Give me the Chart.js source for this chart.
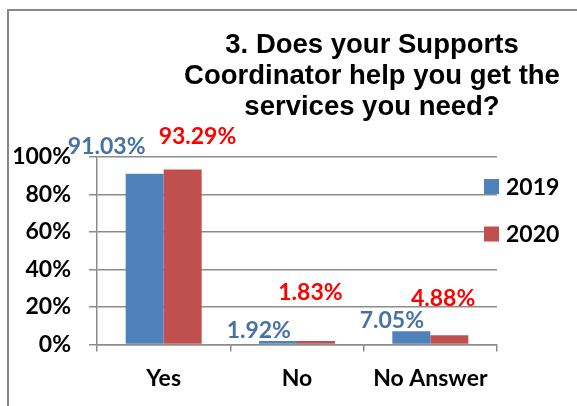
<!DOCTYPE html>
<html>
<head>
<meta charset="utf-8">
<script src="https://cdn.jsdelivr.net/npm/chart.js@4"></script>
<style>
  html, body { margin: 0; padding: 0; background: #ffffff; }
  #wrap { position: relative; width: 577px; height: 406px; }
  canvas { display: block; }
</style>
</head>
<body>
<div id="wrap"><canvas id="chart" width="577" height="406"></canvas></div>
<script>
// Survey answers, share of respondents (%)
const categories = ['Yes', 'No', 'No Answer'];
const seriesNames = ['2019', '2020'];
const values2019 = [91.03, 1.92, 7.05];
const values2020 = [93.29, 1.83, 4.88];
const yTickValues = [0, 20, 40, 60, 80, 100];
const titleLines = ['3. Does your Supports', 'Coordinator help you get the', 'services you need?'];

const barColors = ['#4F81BD', '#C0504D'];
const valueLabelColors = ['#4572A7', '#FF0000'];
const gridColor = '#8C8C8C';
const labelFont = 'bold 23px Lato';

// Frame, title, legend and value labels
const decorations = {
  id: 'decorations',
  beforeDraw(chart) {
    const ctx = chart.ctx;
    ctx.save();
    ctx.strokeStyle = '#888888';
    ctx.lineWidth = 2;
    ctx.beginPath();
    ctx.moveTo(8, 406);
    ctx.lineTo(8, 10);
    ctx.lineTo(577, 10);
    ctx.stroke();
    ctx.restore();
  },
  afterDatasetsDraw(chart, args, opts) {
    const ctx = chart.ctx;
    const area = chart.chartArea;
    ctx.save();

    // title
    ctx.fillStyle = '#000000';
    ctx.font = 'bold 27.5px "Liberation Sans", Arial, sans-serif';
    ctx.textAlign = 'center';
    ctx.textBaseline = 'alphabetic';
    titleLines.forEach((line, i) => {
      ctx.fillText(line, opts.titleX, opts.titleBaseline + i * opts.titleLineGap);
    });

    // legend
    ctx.font = labelFont;
    ctx.textAlign = 'left';
    chart.data.datasets.forEach((ds, i) => {
      const cy = opts.legendY[i];
      ctx.fillStyle = ds.backgroundColor;
      ctx.fillRect(area.right - 13, cy - 7.5, 15, 15);
      ctx.fillStyle = '#000000';
      ctx.fillText(ds.label, area.right + 9, cy + 8.2);
    });

    // value labels
    ctx.textAlign = 'center';
    chart.data.datasets.forEach((ds, i) => {
      const meta = chart.getDatasetMeta(i);
      ctx.fillStyle = valueLabelColors[i];
      meta.data.forEach((bar, j) => {
        const [dx, dy] = opts.offsets[i][j];
        ctx.fillText(ds.data[j].toFixed(2) + '%', bar.x + dx, bar.y + dy + 8.2);
      });
    });
    ctx.restore();
  }
};

new Chart(document.getElementById('chart'), {
  type: 'bar',
  data: {
    labels: categories,
    datasets: [
      { label: seriesNames[0], data: values2019, backgroundColor: barColors[0] },
      { label: seriesNames[1], data: values2020, backgroundColor: barColors[1] }
    ]
  },
  options: {
    responsive: false,
    animation: false,
    events: [],
    layout: { padding: { top: 157, right: 80, left: 0, bottom: 0 } },
    datasets: { bar: { categoryPercentage: 0.57, barPercentage: 1.0, borderWidth: 0 } },
    scales: {
      x: {
        afterFit(scale) { scale.height = 61.5; },
        grid: { display: true, drawOnChartArea: false, drawTicks: true, tickLength: 7, offset: true, color: gridColor, lineWidth: 1.5 },
        border: { display: true, color: gridColor, width: 1.5 },
        ticks: { color: '#000000', font: { family: 'Lato', size: 23, weight: 'bold' }, padding: 13, maxRotation: 0 }
      },
      y: {
        min: 0,
        max: 100,
        afterFit(scale) { scale.width = 97; },
        afterBuildTicks(scale) { scale.ticks = yTickValues.map(v => ({ value: v })); },
        grid: { color: gridColor, lineWidth: 1.5, drawTicks: true, tickLength: 8, tickColor: gridColor },
        border: { display: true, color: gridColor, width: 1.5 },
        ticks: {
          color: '#000000',
          font: { family: 'Lato', size: 23, weight: 'bold' },
          padding: 18,
          callback: v => v + '%'
        }
      }
    },
    plugins: {
      legend: { display: false },
      title: { display: false },
      tooltip: { enabled: false },
      decorations: {
        titleX: 372,
        titleBaseline: 53,
        titleLineGap: 31,
        legendY: [186.5, 234],
        offsets: [
          [[-38, -28.3], [-19.2, -10.9], [-19.5, -11.6]],
          [[14.8, -33.8], [-5.6, -49.1], [-6.2, -37.4]]
        ]
      }
    }
  },
  plugins: [decorations]
});
</script>
</body>
</html>
